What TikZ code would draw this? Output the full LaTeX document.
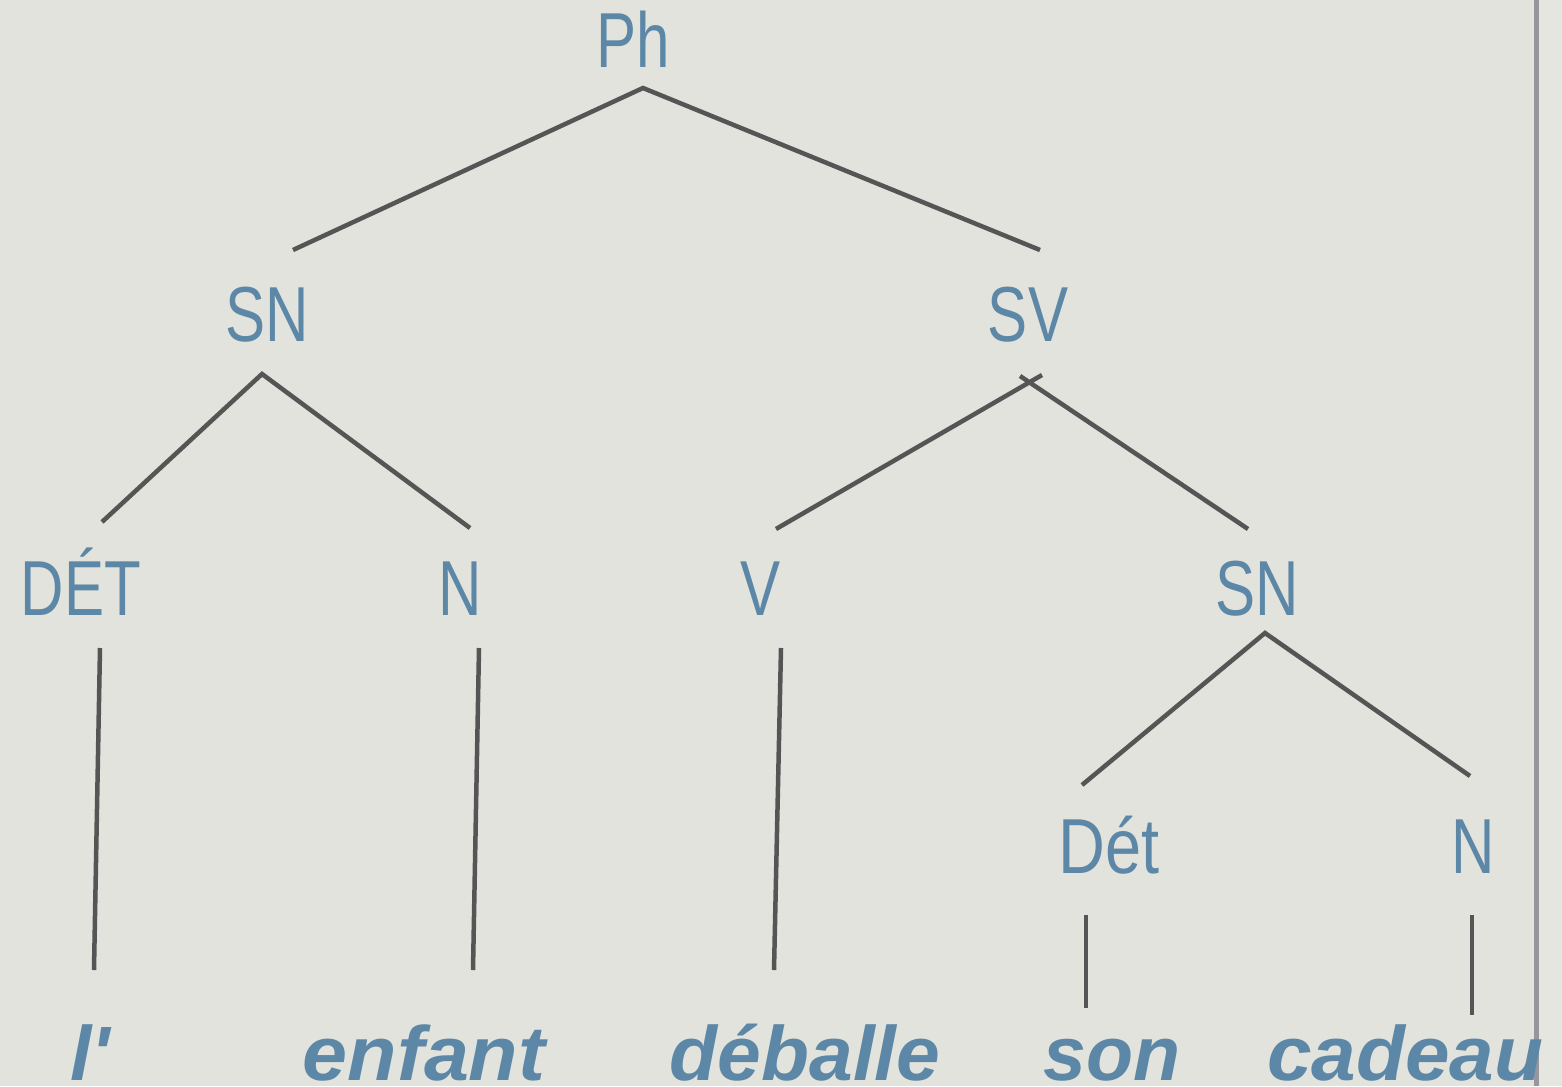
\documentclass[tikz,border=0pt]{standalone}
\usepackage{fontspec}
\setmainfont{Liberation Sans}
\definecolor{bgc}{RGB}{226,227,220}
\definecolor{bgr}{RGB}{229,230,224}
\definecolor{txt}{RGB}{92,135,167}
\definecolor{edge}{RGB}{85,85,85}
\definecolor{rule}{RGB}{150,150,156}
\begin{document}
\begin{tikzpicture}[x=1pt,y=-1pt,
  cat/.style={inner sep=0pt,anchor=base,text=txt,xscale=0.77,
    font=\fontsize{78}{90}\selectfont},
  word/.style={inner sep=0pt,anchor=base,text=txt,
    font=\fontsize{77}{90}\selectfont\bfseries\itshape},
  br/.style={draw=edge,line width=4.5pt}]
\useasboundingbox (0,0) rectangle (1562,1086);
\fill[bgc] (0,0) rectangle (1562,1086);
\fill[bgr] (1537,0) rectangle (1562,1086);
\draw[rule,line width=4.5pt] (1536.5,0) -- (1536.5,1086);
% category nodes
\node[cat] (ph) at (633,68) {Ph};
\node[cat] (sn1) at (267,341) {SN};
\node[cat] (sv) at (1028,341) {SV};
\node[cat] (det1) at (81,615) {DÉT};
\node[cat] (n1) at (460,615) {N};
\node[cat] (v) at (761,615) {V};
\node[cat] (sn2) at (1257,615) {SN};
\node[cat,xscale=1.08] (det2) at (1109,873) {Dét};
\node[cat] (n2) at (1473,873) {N};
% words
\node[word] (w1) at (90,1080) {l\textquotesingle};
\node[word,xscale=1.05] (w2) at (424,1080) {enfant};
\node[word,xscale=1.02] (w3) at (805,1080) {déballe};
\node[word] (w4) at (1112,1080) {son};
\node[word,xscale=1.04] (w5) at (1405,1080) {cadeau};
% branch end points
\coordinate (ph-b) at (643,88);
\coordinate (sn1-t) at (293,250);
\coordinate (sv-t) at (1040,250);
\coordinate (sn1-b) at (262,374);
\coordinate (det1-t) at (102,522);
\coordinate (n1-t) at (470,528);
\coordinate (sv-bl) at (1042,375);
\coordinate (sv-br) at (1020,376);
\coordinate (v-t) at (776,529);
\coordinate (sn2-t) at (1248,529);
\coordinate (det1-b) at (100,648);
\coordinate (w1-t) at (94,970);
\coordinate (n1-b) at (479,648);
\coordinate (w2-t) at (473,970);
\coordinate (v-b) at (781,648);
\coordinate (w3-t) at (774,970);
\coordinate (sn2-b) at (1265,633);
\coordinate (det2-t) at (1082,785);
\coordinate (n2-t) at (1470,776);
\coordinate (det2-b) at (1086,915);
\coordinate (w4-t) at (1086,1008);
\coordinate (n2-b) at (1472,915);
\coordinate (w5-t) at (1472,1015);
% branches
\draw[br] (sn1-t) -- (ph-b) -- (sv-t);
\draw[br] (det1-t) -- (sn1-b) -- (n1-t);
\draw[br] (sv-bl) -- (v-t);
\draw[br] (sv-br) -- (sn2-t);
\draw[br] (det2-t) -- (sn2-b) -- (n2-t);
\draw[br] (det1-b) -- (w1-t);
\draw[br] (n1-b) -- (w2-t);
\draw[br] (v-b) -- (w3-t);
\draw[br] (det2-b) -- (w4-t);
\draw[br] (n2-b) -- (w5-t);
\end{tikzpicture}
\end{document}
